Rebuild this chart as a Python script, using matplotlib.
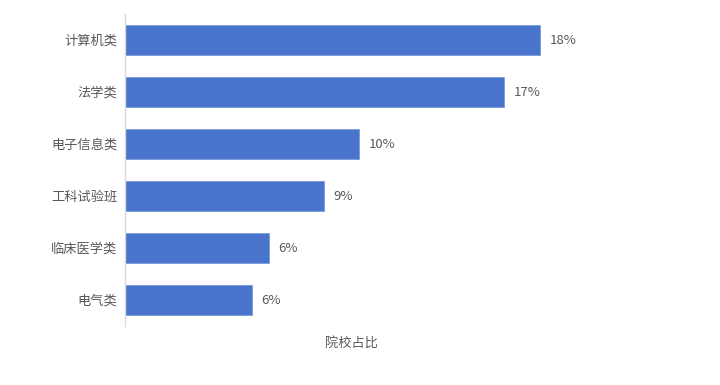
import matplotlib.pyplot as plt
import numpy as np

plt.rcParams['font.family'] = ['Noto Sans CJK SC', 'DejaVu Sans']

# data (top to bottom)
categories = ['计算机类', '法学类', '电子信息类', '工科试验班', '临床医学类', '电气类']
shares = [18.2, 16.6, 10.25, 8.7, 6.3, 5.55]

bar_color = '#4874CB'
text_color = '#595959'

fig = plt.figure(figsize=(7.2, 3.85), dpi=100)
ax = fig.add_axes([0.1743, 0.1532, 0.6264, 0.8104])

y = np.arange(len(categories))
bars = ax.barh(y, shares, height=0.585, color=bar_color, edgecolor='#7A9BDA', linewidth=0.6)

for rect, v in zip(bars, shares):
    ax.annotate(f'{v:.0f}%', (rect.get_width(), rect.get_y() + rect.get_height() / 2),
                xytext=(7, 0), textcoords='offset points', va='center', ha='left',
                fontsize=9.5, color=text_color)

ax.set_yticks(y)
ax.set_yticklabels(categories, fontsize=9.5, color=text_color)
ax.set_ylim(len(categories) - 0.5, -0.5)
ax.set_xlim(0, 19.8)
ax.set_xticks([])
ax.tick_params(axis='y', length=0, pad=6)

for side in ['top', 'right', 'bottom']:
    ax.spines[side].set_visible(False)
ax.spines['left'].set_color('#D9D9D9')
ax.spines['left'].set_linewidth(1)

ax.set_xlabel('院校占比', fontsize=9.5, color=text_color, labelpad=8)

fig.savefig('out.png', dpi=100)
